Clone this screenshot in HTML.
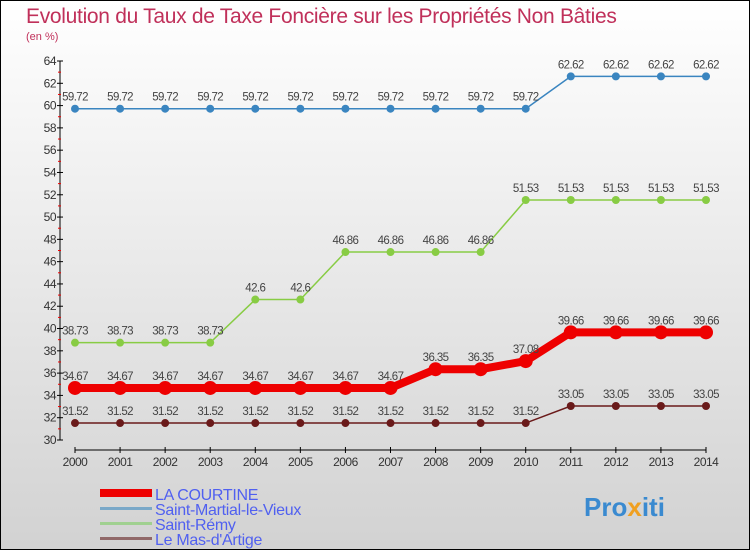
<!DOCTYPE html>
<html><head><meta charset="utf-8"><style>
body{margin:0}
#c{width:750px;height:550px;position:relative;box-sizing:border-box;border:1px solid #000;background:linear-gradient(#ffffff,#d2d2d2);overflow:hidden;font-family:"Liberation Sans",sans-serif}
</style></head><body>
<div id="c">
<svg id="s" width="750" height="550" style="position:absolute;left:-1px;top:-1px">
<text x="26" y="23" font-size="21" fill="#c0305a" letter-spacing="-0.3">Evolution du Taux de Taxe Foncière sur les Propriétés Non Bâties</text>
<text x="26" y="40" font-size="11" fill="#c0305a">(en %)</text>
<g id="axes"></g><g id="series"></g>
<g>
<rect x="100" y="489" width="52" height="8" fill="#e00"/>
<text x="155" y="500" font-size="16" fill="#5060f0" letter-spacing="-0.3">LA COURTINE</text>
<rect x="100" y="507" width="52" height="3" fill="#7aa8c8"/>
<text x="155" y="515" font-size="16" fill="#5060f0" letter-spacing="-0.3">Saint-Martial-le-Vieux</text>
<rect x="100" y="522" width="52" height="3" fill="#a0d090"/>
<text x="155" y="530" font-size="16" fill="#5060f0" letter-spacing="-0.3">Saint-Rémy</text>
<rect x="100" y="537" width="52" height="3" fill="#906868"/>
<text x="155" y="545" font-size="16" fill="#5060f0" letter-spacing="-0.3">Le Mas-d'Artige</text>
</g>
<text x="584" y="516" font-size="26" font-weight="bold" fill="#3a8ad0">Pro<tspan fill="#f0a020">x</tspan>iti</text>
</svg>
</div>
<script>
const years=[2000,2001,2002,2003,2004,2005,2006,2007,2008,2009,2010,2011,2012,2013,2014];
const courtine=[34.67,34.67,34.67,34.67,34.67,34.67,34.67,34.67,36.35,36.35,37.08,39.66,39.66,39.66,39.66];
const martial=[59.72,59.72,59.72,59.72,59.72,59.72,59.72,59.72,59.72,59.72,59.72,62.62,62.62,62.62,62.62];
const remy=[38.73,38.73,38.73,38.73,42.6,42.6,46.86,46.86,46.86,46.86,51.53,51.53,51.53,51.53,51.53];
const mas=[31.52,31.52,31.52,31.52,31.52,31.52,31.52,31.52,31.52,31.52,31.52,33.05,33.05,33.05,33.05];
const yTicks=[30,32,34,36,38,40,42,44,46,48,50,52,54,56,58,60,62,64];
const NS="http://www.w3.org/2000/svg";
const X=i=>75+i*(706-75)/(years.length-1);
const Y=v=>440-(v-30)*(440-61)/34;
function mk(t,a,p){const e=document.createElementNS(NS,t);for(const k in a)e.setAttribute(k,a[k]);p.appendChild(e);return e;}
const ax=document.getElementById('axes'),sg=document.getElementById('series');
let l=mk('line',{x1:60,y1:Y(64),x2:60,y2:440,stroke:'#000'},ax);


yTicks.forEach((v,k)=>{
 mk('line',{x1:57,x2:63,y1:Y(v),y2:Y(v),stroke:'#000'},ax);
 if(k<yTicks.length-1) mk('line',{x1:58,x2:61,y1:Y(v+1),y2:Y(v+1),stroke:'#e00'},ax);
 const t=mk('text',{x:56,y:Y(v)+4,'text-anchor':'end','font-size':12,fill:'#333','letter-spacing':-0.5},ax);t.textContent=v;
 
 
});
l=mk('line',{x1:75,y1:450,x2:706,y2:450,stroke:'#000'},ax);


years.forEach((y,i)=>{
 mk('line',{x1:X(i),x2:X(i),y1:447,y2:453,stroke:'#000'},ax);
 const t=mk('text',{x:X(i),y:466,'text-anchor':'middle','font-size':12,fill:'#333','letter-spacing':-0.5},ax);t.textContent=y;
 
 
});
function series(d,col,w,r,name){
 const g=mk('g',{},sg);
 
 
 mk('polyline',{points:d.map((v,i)=>X(i)+','+Y(v)).join(' '),fill:'none',stroke:col,'stroke-width':w},g);
 d.forEach((v,i)=>{
  const c=mk('circle',{cx:X(i),cy:Y(v),r:r,fill:col},g);
  
  
  const t=mk('text',{x:X(i),y:Y(v)-8,'text-anchor':'middle','font-size':11.5,fill:'#444','letter-spacing':-0.6},g);t.textContent=v;
  
  
 });
}
series(martial,'#3a85c0',1.5,4,'saint-martial-series');
series(remy,'#88cc44',1.5,4,'saint-remy-series');
series(mas,'#6a1a1a',1.5,4,'le-mas-dartige-series');
series(courtine,'#ee0000',8,7,'la-courtine-series');
</script>
</body></html>
